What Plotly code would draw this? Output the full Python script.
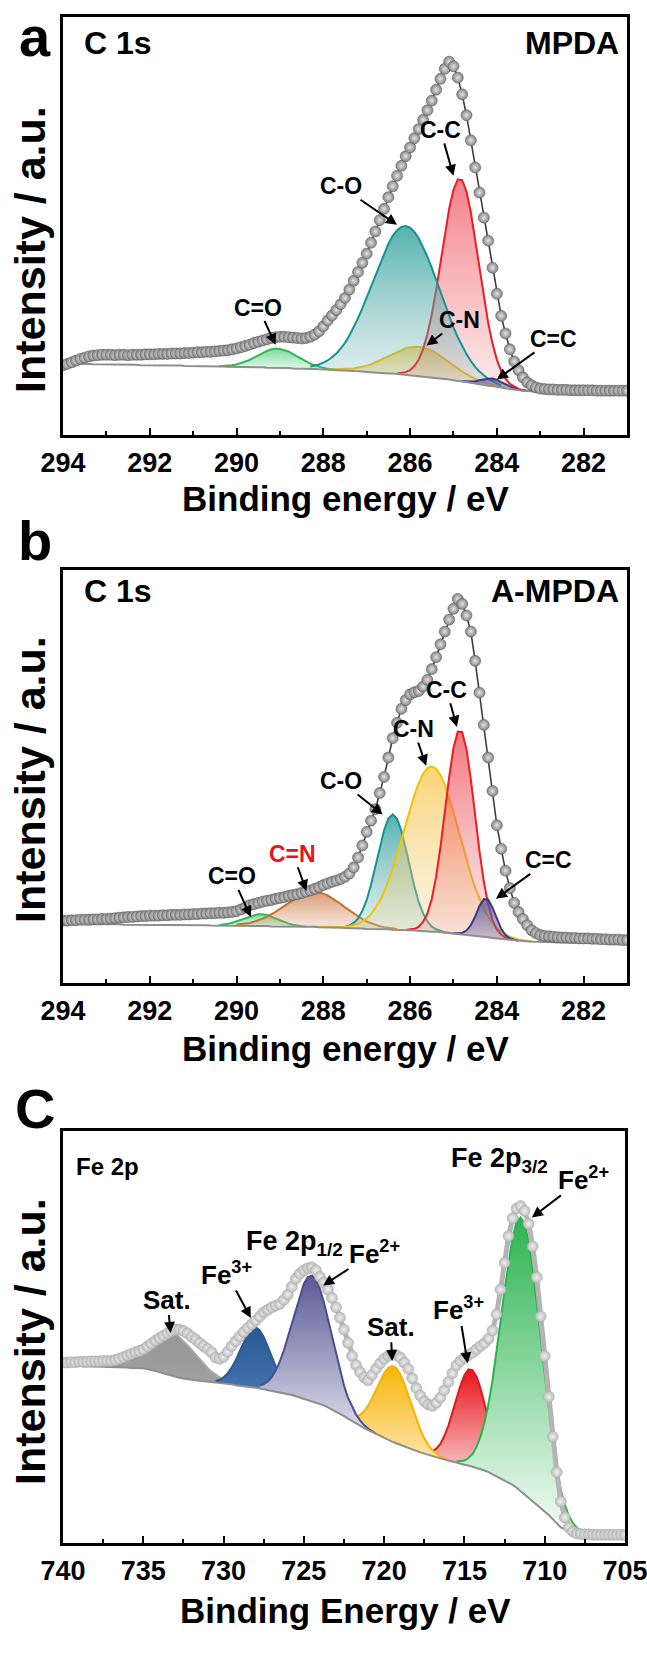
import numpy as np
import plotly.graph_objects as go

W, H = 647, 1664

# ---------------- DATA ----------------
# energy grids (binding energy, eV)
e_a = np.round(np.arange(294.0, 280.95, -0.1), 2)
e_b = np.round(np.arange(294.0, 280.95, -0.1), 2)
e_c = np.round(np.arange(740.0, 704.9, -0.25), 2)

env_a = [16.7, 17.0, 17.4, 17.8, 18.2, 18.5, 18.8, 19.0, 19.1, 19.2, 19.2,
         19.2, 19.1, 19.2, 19.2, 19.1, 19.2, 19.2, 19.2, 19.3, 19.3,
         19.3, 19.4, 19.4, 19.4, 19.5, 19.5, 19.5, 19.6, 19.6, 19.7,
         19.8, 19.8, 19.9, 19.9, 20.0, 20.1, 20.2, 20.3, 20.5, 20.7,
         21.0, 21.3, 21.6, 22.0, 22.3, 22.6, 22.9, 23.2, 23.4, 23.5,
         23.5, 23.4, 23.3, 23.2, 23.1, 23.2, 23.5, 24.0, 24.8, 26.0,
         27.4, 28.6, 29.9, 31.3, 32.8, 34.8, 36.9, 39.0, 41.2, 43.4,
         46.0, 48.7, 51.4, 54.1, 56.9, 59.5, 62.0, 64.4, 66.7, 68.8,
         71.0, 73.2, 75.4, 77.7, 80.0, 82.6, 85.2, 87.6, 89.3, 88.2,
         85.5, 81.5, 76.5, 70.5, 64.0, 58.0, 52.0, 46.5, 40.0, 33.8,
         28.5, 24.3, 20.5, 17.6, 15.5, 13.8, 12.6, 11.9, 11.4, 11.1,
         11.0, 10.9, 10.9, 10.8, 10.8, 10.8, 10.7, 10.7, 10.7, 10.7,
         10.7, 10.7, 10.6, 10.6, 10.6, 10.6, 10.6, 10.6, 10.6, 10.6]

env_b = [15.1, 15.1, 15.2, 15.2, 15.3, 15.3, 15.3, 15.4, 15.4, 15.5, 15.5,
         15.6, 15.7, 15.8, 15.9, 16.0, 16.0, 16.1, 16.2, 16.2, 16.3,
         16.3, 16.3, 16.4, 16.4, 16.5, 16.5, 16.5, 16.6, 16.6, 16.7,
         16.7, 16.8, 16.8, 16.9, 16.9, 17.0, 17.0, 17.1, 17.2, 17.4,
         17.8, 18.3, 18.8, 19.1, 19.4, 19.7, 19.9, 20.1, 20.4, 20.6,
         20.8, 21.1, 21.3, 21.5, 21.8, 22.1, 22.4, 22.8, 23.2, 23.7,
         24.1, 24.5, 24.8, 25.2, 25.7, 26.5, 28.0, 30.4, 33.3, 36.6,
         39.3, 42.1, 46.0, 49.9, 54.6, 59.3, 63.0, 66.4, 68.5, 69.9,
         70.4, 70.7, 71.8, 73.4, 76.0, 78.9, 82.0, 85.1, 88.0, 90.6,
         93.0, 91.8, 89.0, 85.1, 78.0, 70.3, 62.5, 54.6, 46.5, 38.2,
         32.5, 27.2, 23.0, 19.4, 17.2, 15.5, 14.0, 12.8, 12.1, 11.6,
         11.4, 11.3, 11.2, 11.1, 11.0, 11.0, 10.9, 10.9, 10.8, 10.8,
         10.8, 10.7, 10.7, 10.6, 10.6, 10.5, 10.5, 10.5, 10.4, 10.4]

env_c = [43.8, 43.8, 43.9, 43.9,
         44.0, 44.0, 44.0, 44.1,
         44.1, 44.1, 44.2, 44.2,
         44.2, 44.4, 44.7, 45.1,
         45.5, 45.9, 46.3, 46.6,
         47.0, 47.7, 48.4, 49.1,
         49.7, 50.3, 50.9, 51.4,
         51.8, 51.8, 51.5, 50.9,
         50.1, 49.4, 48.6, 47.8,
         47.1, 46.3, 45.0, 44.7,
         45.2, 46.4, 47.8, 49.0,
         50.1, 51.2, 52.2, 53.1,
         54.0, 55.0, 56.0, 56.6,
         57.2, 57.6, 58.0, 59.0,
         60.3, 62.2, 64.2, 65.4,
         66.2, 66.7, 66.9, 66.2,
         64.6, 63.2, 61.5, 59.5,
         57.2, 54.7, 51.8, 48.6,
         45.4, 43.2, 41.5, 40.2,
         39.5, 40.8, 42.3, 43.6,
         44.7, 45.4, 45.8, 45.6,
         45.0, 43.8, 42.3, 40.0,
         37.6, 35.8, 34.4, 33.6,
         33.3, 34.0, 35.3, 37.1,
         39.1, 41.2, 43.1, 44.2,
         45.0, 45.6, 46.2, 47.0,
         47.8, 48.5, 49.6, 51.6,
         55.5, 61.5, 68.0, 74.5,
         78.8, 81.2, 81.8, 80.6,
         77.5, 72.0, 64.5, 55.0,
         45.4, 35.5, 25.8, 17.2,
         10.1, 6.2, 3.8, 2.8,
         2.3, 2.2, 2.1, 2.1,
         2.0, 2.0, 2.0, 2.0,
         2.0, 2.0, 2.0, 2.0,
         2.0]

# Shirley background (a.u.)
bg_a = [17.1, 17.1, 17.1, 17.0, 17.0, 17.0, 17.0, 16.9, 16.9, 16.9, 16.9,
        16.9, 16.9, 16.8, 16.8, 16.8, 16.8, 16.8, 16.7, 16.7, 16.7,
        16.7, 16.7, 16.6, 16.6, 16.6, 16.6, 16.6, 16.5, 16.5, 16.5,
        16.5, 16.5, 16.4, 16.4, 16.4, 16.4, 16.4, 16.3, 16.3, 16.3,
        16.3, 16.3, 16.2, 16.2, 16.2, 16.2, 16.1, 16.1, 16.1, 16.0,
        16.0, 16.0, 15.9, 15.9, 15.9, 15.8, 15.8, 15.8, 15.7, 15.7,
        15.6, 15.6, 15.5, 15.5, 15.4, 15.4, 15.3, 15.3, 15.2, 15.1,
        15.0, 15.0, 14.9, 14.8, 14.7, 14.7, 14.6, 14.5, 14.4, 14.3,
        14.2, 14.1, 14.0, 13.9, 13.8, 13.7, 13.6, 13.4, 13.3, 13.1,
        13.0, 12.8, 12.7, 12.5, 12.3, 12.2, 12.0, 11.8, 11.7, 11.5,
        11.3, 11.2, 11.0, 10.9, 10.7, 10.6, 10.5, 10.4, 10.4, 10.3,
        10.3, 10.3, 10.3, 10.3, 10.3, 10.3, 10.3, 10.3, 10.3, 10.3,
        10.3, 10.3, 10.3, 10.3, 10.3, 10.3, 10.3, 10.3, 10.3, 10.3]

bg_b = [14.3, 14.3, 14.3, 14.3, 14.3, 14.2, 14.2, 14.2, 14.2, 14.2, 14.2,
        14.2, 14.2, 14.2, 14.1, 14.1, 14.1, 14.1, 14.1, 14.1, 14.1,
        14.1, 14.1, 14.0, 14.0, 14.0, 14.0, 14.0, 14.0, 14.0, 14.0,
        14.0, 14.0, 14.0, 13.9, 13.9, 13.9, 13.9, 13.9, 13.9, 13.9,
        13.9, 13.9, 13.8, 13.8, 13.8, 13.8, 13.8, 13.7, 13.7, 13.7,
        13.7, 13.7, 13.7, 13.6, 13.6, 13.6, 13.6, 13.6, 13.5, 13.5,
        13.5, 13.4, 13.4, 13.4, 13.3, 13.3, 13.3, 13.2, 13.2, 13.1,
        13.1, 13.1, 13.0, 13.0, 13.0, 12.9, 12.9, 12.9, 12.8, 12.8,
        12.7, 12.6, 12.6, 12.5, 12.4, 12.4, 12.3, 12.2, 12.1, 12.0,
        11.9, 11.8, 11.7, 11.6, 11.4, 11.3, 11.2, 11.1, 10.9, 10.8,
        10.7, 10.6, 10.5, 10.4, 10.2, 10.2, 10.1, 10.0, 10.0, 9.9,
        9.9, 9.9, 9.8, 9.8, 9.8, 9.8, 9.8, 9.7, 9.7, 9.7,
        9.7, 9.7, 9.7, 9.7, 9.6, 9.6, 9.6, 9.6, 9.6, 9.6]

bg_c = [43.1, 43.1, 43.0, 43.0,
        43.0, 42.9, 42.9, 42.9,
        42.8, 42.8, 42.8, 42.7,
        42.7, 42.7, 42.6, 42.6,
        42.6, 42.5, 42.5, 42.4,
        42.4, 42.2, 42.0, 41.7,
        41.5, 41.2, 40.9, 40.6,
        40.4, 40.1, 39.9, 39.7,
        39.6, 39.5, 39.4, 39.2,
        39.1, 39.0, 38.9, 38.8,
        38.7, 38.6, 38.5, 38.3,
        38.2, 38.1, 38.0, 37.8,
        37.7, 37.5, 37.3, 37.1,
        36.9, 36.8, 36.6, 36.4,
        36.2, 35.9, 35.6, 35.3,
        35.0, 34.7, 34.4, 34.1,
        33.8, 33.4, 32.9, 32.4,
        31.9, 31.4, 30.8, 30.2,
        29.7, 29.1, 28.5, 27.9,
        27.4, 26.9, 26.4, 25.9,
        25.5, 25.0, 24.6, 24.2,
        23.8, 23.4, 23.0, 22.7,
        22.3, 22.0, 21.7, 21.4,
        21.1, 20.8, 20.5, 20.3,
        20.0, 19.8, 19.5, 19.3,
        19.0, 18.8, 18.5, 18.3,
        18.0, 17.6, 17.2, 16.7,
        16.2, 15.7, 15.2, 14.6,
        14.1, 13.4, 12.6, 11.8,
        11.0, 10.2, 9.4, 8.6,
        7.8, 6.8, 5.8, 4.8,
        3.8, 3.3, 2.9, 2.6,
        2.4, 2.2, 2.1, 2.0,
        1.9, 1.9, 1.9, 1.9,
        1.9, 1.9, 1.9, 1.9,
        1.9]

# fitted components: centre (eV), height above background, FWHM (eV), drawn span (eV)
a_names  = ["C=O", "C-N", "C-C", "C-O", "C=C"]
a_center = [289.05, 285.8, 284.85, 286.1, 284.1]
a_height = [4.6, 7.0, 48.5, 35.6, 1.8]
a_fwhm   = [1.1, 1.6, 1.0, 1.8, 0.6]
a_hi     = [290.4, 287.9, 286.3, 288.3, 284.8]
a_lo     = [287.7, 283.8, 283.3, 283.9, 283.3]

b_names  = ["C=O", "C=N", "C-O", "C-N", "C-C", "C=C"]
b_center = [289.45, 288.2, 286.4, 285.5, 284.85, 284.25]
b_height = [2.9, 8.5, 27.9, 40.0, 49.5, 9.4]
b_fwhm   = [0.9, 1.6, 0.85, 1.5, 0.8, 0.5]
b_hi     = [290.4, 290.0, 287.6, 288.3, 286.1, 285.0]
b_lo     = [288.4, 286.3, 285.0, 283.2, 283.6, 283.5]

c_names  = ["Sat.", "Fe3+ (2p1/2)", "Fe3+ (2p3/2)", "Sat.", "Fe2+ (2p1/2)", "Fe2+ (2p3/2)"]
c_center = [733.3, 728.0, 714.6, 719.4, 724.5, 711.45]
c_height = [10.5, 14.7, 23.6, 18.5, 30.5, 66.5]
c_fwhm   = [3.6, 2.2, 2.3, 2.5, 2.8, 2.9]
c_hi     = [740.0, 730.5, 717.0, 721.75, 727.75, 715.5]
c_lo     = [730.0, 726.5, 713.0, 716.0, 720.5, 707.0]

tick_a = [294, 292, 290, 288, 286, 284, 282]
tick_c = [740, 735, 730, 725, 720, 715, 710, 705]

# ---------------- STYLES ----------------
a_style = [("#2dbb55", "rgba(60,200,110,0.65)", "rgba(60,200,110,0.12)"),
           ("#f2c200", "rgba(240,190,40,0.65)", "rgba(240,200,80,0.15)"),
           ("#ee1c24", "rgba(238,60,70,0.65)", "rgba(238,90,100,0.12)"),
           ("#139494", "rgba(40,160,155,0.8)", "rgba(120,180,180,0.18)"),
           ("#3b3b8a", "rgba(80,80,150,0.7)", "rgba(110,110,170,0.2)")]
b_style = [("#2dbb55", "rgba(60,200,110,0.65)", "rgba(60,200,110,0.15)"),
           ("#c9712a", "rgba(205,120,60,0.75)", "rgba(215,150,110,0.2)"),
           ("#139494", "rgba(40,160,155,0.8)", "rgba(120,180,180,0.2)"),
           ("#f2c200", "rgba(245,195,60,0.7)", "rgba(240,210,140,0.2)"),
           ("#ee1c24", "rgba(238,60,70,0.7)", "rgba(238,120,130,0.15)"),
           ("#3b3b8a", "rgba(80,80,150,0.8)", "rgba(120,120,175,0.35)")]
c_style = [("#a8a8a8", "rgb(150,150,150)", "rgb(160,160,160)"),
           ("#2a5b94", "rgb(40,88,145)", "rgb(70,115,175)"),
           ("#e8141c", "rgb(232,20,28)", "rgb(248,205,205)"),
           ("#f5b400", "rgb(248,182,10)", "rgb(253,228,170)"),
           ("#4c4c90", "rgb(90,90,150)", "rgb(222,222,235)"),
           ("#2ab34a", "rgb(44,180,80)", "rgb(245,252,247)")]

FONT = "Liberation Sans"
fig = go.Figure()

panels = {
    1: dict(xd=[63 / W, 627 / W], yd=[1 - 435 / H, 1 - 17 / H]),
    2: dict(xd=[63 / W, 627 / W], yd=[1 - 983 / H, 1 - 570 / H]),
    3: dict(xd=[63 / W, 625 / W], yd=[1 - 1543 / H, 1 - 1131 / H]),
}


def axn(i, letter):
    return letter if i == 1 else f"{letter}{i}"


def add_panel(i, e, env, bg, centers, heights, fwhms, his, los, styles, env_style):
    xa, ya = axn(i, "x"), axn(i, "y")
    e = np.asarray(e)
    bgv = np.asarray(bg)
    for c, h, w, hi, lo, (lc, ft, fb) in zip(centers, heights, fwhms, his, los, styles):
        m = (e <= hi + 1e-6) & (e >= lo - 1e-6)
        xs = e[m]
        b = bgv[m]
        ys = b + h * np.exp(-4 * np.log(2) * (xs - c) ** 2 / w ** 2)
        fig.add_trace(go.Scatter(x=xs, y=b, mode="lines", line=dict(width=0, color="rgba(0,0,0,0)"),
                                 xaxis=xa, yaxis=ya, showlegend=False, hoverinfo="skip"))
        fig.add_trace(go.Scatter(x=xs, y=ys, mode="lines", line=dict(color=lc, width=2),
                                 fill="tonexty",
                                 fillgradient=dict(type="vertical", colorscale=[[0, fb], [1, ft]],
                                                   start=float(b.min()), stop=float(ys.max())),
                                 xaxis=xa, yaxis=ya, showlegend=False, hoverinfo="skip"))
    fig.add_trace(go.Scatter(x=e, y=bgv, mode="lines", line=dict(color="#8e8e8e", width=2),
                             xaxis=xa, yaxis=ya, showlegend=False, hoverinfo="skip"))
    if env_style == "dark":
        fig.add_trace(go.Scatter(x=e, y=env, mode="lines+markers",
                                 line=dict(color="#3e3e3e", width=1.6),
                                 marker=dict(size=11, color="#858585",
                                             gradient=dict(type="radial", color="#e4e4e4"),
                                             line=dict(color="#5c5c5c", width=0.6)),
                                 xaxis=xa, yaxis=ya, showlegend=False, hoverinfo="skip"))
    else:
        fig.add_trace(go.Scatter(x=e, y=env, mode="lines+markers",
                                 line=dict(color="#b4b4b4", width=5),
                                 marker=dict(size=11, color="#bcbcbc",
                                             gradient=dict(type="radial", color="#f0f0f0"),
                                             line=dict(color="#a8a8a8", width=0.5)),
                                 xaxis=xa, yaxis=ya, showlegend=False, hoverinfo="skip"))


add_panel(1, e_a, env_a, bg_a, a_center, a_height, a_fwhm, a_hi, a_lo, a_style, "dark")
add_panel(2, e_b, env_b, bg_b, b_center, b_height, b_fwhm, b_hi, b_lo, b_style, "dark")
add_panel(3, e_c, env_c, bg_c, c_center, c_height, c_fwhm, c_hi, c_lo, c_style, "light")

layout = dict(width=W, height=H, margin=dict(l=0, r=0, t=0, b=0, autoexpand=False),
              paper_bgcolor="white", plot_bgcolor="white", showlegend=False)

for i in (1, 2, 3):
    xr = [294, 281] if i < 3 else [740, 705]
    tv = tick_a if i < 3 else tick_c
    minor_d = 1 if i < 3 else 2.5
    layout[f"xaxis{'' if i == 1 else i}"] = dict(
        domain=panels[i]["xd"], anchor=axn(i, "y"), range=xr, tickvals=tv,
        ticktext=[str(t) for t in tv],
        ticks="inside", ticklen=7, tickwidth=2, tickcolor="black",
        minor=dict(dtick=minor_d, ticks="inside", ticklen=4, tickwidth=2, tickcolor="black"),
        showline=True, linewidth=2.5, linecolor="black", mirror=True,
        showgrid=False, zeroline=False, automargin=False, ticklabelstandoff=2,
        ticklabeloverflow="allow",
        tickfont=dict(family=FONT, size=27, color="black", weight="bold"))
    layout[f"yaxis{'' if i == 1 else i}"] = dict(
        domain=panels[i]["yd"], anchor=axn(i, "x"), range=[0, 100], automargin=False,
        showticklabels=False, ticks="", showline=True, linewidth=2.5, linecolor="black",
        mirror=True, showgrid=False, zeroline=False)

fig.update_layout(**layout)

ann = []


def ptxt(text, x, y, size, xanchor="center", yanchor="middle", color="black"):
    ann.append(dict(text=text, x=x / W, y=1 - y / H, xref="paper", yref="paper",
                    xanchor=xanchor, yanchor=yanchor, showarrow=False,
                    font=dict(family=FONT, size=size, color=color, weight="bold")))


def dtxt(i, text, x, y, size, color="black"):
    ann.append(dict(text=text, x=x, y=y, xref=axn(i, "x"), yref=axn(i, "y"),
                    showarrow=False, xanchor="center", yanchor="middle",
                    font=dict(family=FONT, size=size, color=color, weight="bold")))


def label_arrow(i, text, tx, ty, x1, y1, size, color="black"):
    # label centred at (tx, ty); arrow from the label box edge to the tip (x1, y1)
    ann.append(dict(text=text, x=x1, y=y1, ax=tx, ay=ty, xref=axn(i, "x"), yref=axn(i, "y"),
                    axref=axn(i, "x"), ayref=axn(i, "y"), showarrow=True,
                    arrowhead=2, arrowsize=1.1, arrowwidth=2, arrowcolor="black", standoff=0,
                    startstandoff=0, borderpad=0,
                    font=dict(family=FONT, size=size, color=color, weight="bold")))


# panel letters and axis titles
ptxt("a", 35, 37, 56)
ptxt("b", 35, 540, 56)
ptxt("C", 35, 1108, 56)
for yy, t in ((498, "Binding energy / eV"), (1048, "Binding energy / eV"), (1610, "Binding Energy / eV")):
    ptxt(t, 345, yy, 35)
for yc in (250, 780, 1342):
    ann.append(dict(text="Intensity / a.u.", x=30 / W, y=1 - yc / H, xref="paper", yref="paper",
                    showarrow=False, textangle=-90, xanchor="center", yanchor="middle",
                    font=dict(family=FONT, size=43, color="black", weight="bold")))

# corner labels
ptxt("C 1s", 82, 43, 32, xanchor="left")
ptxt("MPDA", 621, 43, 32, xanchor="right")
ptxt("C 1s", 82, 591, 32, xanchor="left")
ptxt("A-MPDA", 621, 591, 32, xanchor="right")
ptxt("Fe 2p", 74, 1166, 24, xanchor="left")

# panel a peak labels
label_arrow(1, "C=O", 289.5, 30.5, 289.1, 21.6, 23)
label_arrow(1, "C-O", 287.6, 59.5, 286.3, 50.3, 23)
label_arrow(1, "C-C", 285.3, 73.0, 285.0, 62.0, 23)
label_arrow(1, "C-N", 284.85, 27.5, 285.62, 21.4, 23)
label_arrow(1, "C=C", 282.7, 23.0, 284.0, 13.3, 23)

# panel b peak labels
label_arrow(2, "C=O", 290.1, 25.8, 289.67, 16.0, 23)
label_arrow(2, "C=N", 288.7, 31.3, 288.39, 22.3, 23, color="#e8141c")
label_arrow(2, "C-O", 287.6, 48.9, 286.63, 40.8, 23)
label_arrow(2, "C-N", 285.92, 61.5, 285.63, 52.6, 23)
label_arrow(2, "C-C", 285.16, 71.0, 284.92, 62.0, 23)
label_arrow(2, "C=C", 282.8, 29.7, 284.02, 20.4, 23)

# panel c labels
label_arrow(3, "Sat.", 733.5, 59.1, 733.3, 51.0, 26)
label_arrow(3, "Fe<sup>3+</sup>", 729.8, 65.4, 728.3, 54.6, 26)
dtxt(3, "Fe 2p<sub>1/2</sub>", 725.6, 72.8, 27)
label_arrow(3, "Fe<sup>2+</sup>", 720.6, 70.6, 723.8, 62.5, 26)
label_arrow(3, "Sat.", 719.6, 52.5, 719.5, 44.2, 26)
label_arrow(3, "Fe<sup>3+</sup>", 715.35, 56.8, 714.8, 43.6, 26)
dtxt(3, "Fe 2p<sub>3/2</sub>", 712.8, 93.0, 27)
label_arrow(3, "Fe<sup>2+</sup>", 707.6, 88.5, 710.8, 79.0, 26)

fig.update_layout(annotations=ann)
fig.write_html("out.html")
